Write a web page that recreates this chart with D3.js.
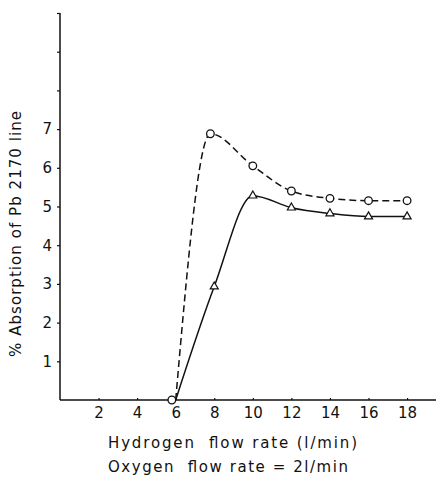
<!DOCTYPE html>
<html>
<head>
<meta charset="utf-8">
<script src="https://cdn.jsdelivr.net/npm/d3@7"></script>
<style>
  body { margin: 0; background: #fff; }
  text { font-family: "DejaVu Sans", sans-serif; fill: #111; white-space: pre; }
</style>
</head>
<body>
<script>
// hydrogen flow rate (l/min)
var circleX = [6, 7.8, 10, 12, 14, 16, 18];
var circleY = [0, 6.88, 6.05, 5.4, 5.21, 5.15, 5.15];
var triangleX = [6, 8, 10, 12, 14, 16, 18];
var triangleY = [0, 2.93, 5.28, 4.97, 4.82, 4.74, 4.74];
var xTicks = [2, 4, 6, 8, 10, 12, 14, 16, 18];
var yTicks = [1, 2, 3, 4, 5, 6, 7, 8, 9, 10];
var yLabels = [1, 2, 3, 4, 5, 6, 7];

function draw() {
    var w = 438, h = 478;
    var svg = d3.select("body").append("svg")
        .attr("width", w)
        .attr("height", h);

    var x = d3.scaleLinear().domain([0, 19.5]).range([60, 436]);
    var y = d3.scaleLinear().domain([0, 10]).range([400, 13]);

    // y axis, only 1-7 get numbers
    var yAxis = d3.axisLeft(y)
        .tickValues(yTicks)
        .tickSize(3)
        .tickFormat(function(d) { return yLabels.indexOf(d) >= 0 ? d : ""; });
    var gy = svg.append("g").attr("transform", "translate(60,0)").call(yAxis);
    gy.select(".domain").attr("stroke", "#111").attr("stroke-width", 1.5).attr("d", "M0," + y(10) + "V" + y(0));
    gy.selectAll(".tick line").attr("stroke", "#111").attr("stroke-width", 1.2);
    gy.selectAll(".tick text").attr("x", -8).style("font-size", "15px").attr("fill", "#111");

    // x axis
    var xAxis = d3.axisBottom(x).tickValues(xTicks).tickSize(-2);
    var gx = svg.append("g").attr("transform", "translate(0,400)").call(xAxis);
    gx.select(".domain").attr("stroke", "#111").attr("stroke-width", 1.5).attr("d", "M" + x(0) + ",0H" + x(19.5));
    gx.selectAll(".tick line").attr("stroke", "#111").attr("stroke-width", 1.2);
    gx.selectAll(".tick text").attr("y", 7).style("font-size", "15px").attr("fill", "#111");

    var line = d3.line()
        .x(function(d) { return x(d[0]); })
        .y(function(d) { return y(d[1]); })
        .curve(d3.curveMonotoneX);

    var circles = circleX.map(function(v, i) { return [v, circleY[i]]; });
    var triangles = triangleX.map(function(v, i) { return [v, triangleY[i]]; });

    svg.append("path").datum(circles)
        .attr("d", line)
        .attr("fill", "none")
        .attr("stroke", "#111")
        .attr("stroke-width", 1.5)
        .attr("stroke-dasharray", "7,4");

    svg.append("path").datum(triangles)
        .attr("d", line)
        .attr("fill", "none")
        .attr("stroke", "#111")
        .attr("stroke-width", 1.5);

    svg.selectAll(".tri").data(triangles.slice(1)).enter()
        .append("path")
        .attr("class", "tri")
        .attr("d", d3.symbol().type(d3.symbolTriangle).size(28))
        .attr("transform", function(d) { return "translate(" + x(d[0]) + "," + y(d[1]) + ")"; })
        .attr("fill", "#fff")
        .attr("stroke", "#111")
        .attr("stroke-width", 1.2);

    svg.selectAll(".circ").data(circles).enter()
        .append("circle")
        .attr("class", "circ")
        .attr("cx", function(d) { return x(d[0] - (d[1] === 0 ? 0.2 : 0)); })
        .attr("cy", function(d) { return y(d[1]); })
        .attr("r", 3.8)
        .attr("fill", "#fff")
        .attr("stroke", "#111")
        .attr("stroke-width", 1.3);

    // titles
    svg.append("text")
        .attr("transform", "translate(21,234) rotate(-90)")
        .attr("text-anchor", "middle")
        .attr("textLength", 246)
        .attr("lengthAdjust", "spacing")
        .style("font-size", "15px")
        .text("% Absorption of Pb 2170 line");

    svg.append("text")
        .attr("x", 108).attr("y", 448)
        .attr("textLength", 249)
        .attr("lengthAdjust", "spacing")
        .style("font-size", "15px")
        .text("Hydrogen  flow rate (l/min)");

    svg.append("text")
        .attr("x", 108).attr("y", 472)
        .attr("textLength", 240)
        .attr("lengthAdjust", "spacing")
        .style("font-size", "15px")
        .text("Oxygen  flow rate = 2l/min");
}
window.onload = draw;
</script>
</body>
</html>
